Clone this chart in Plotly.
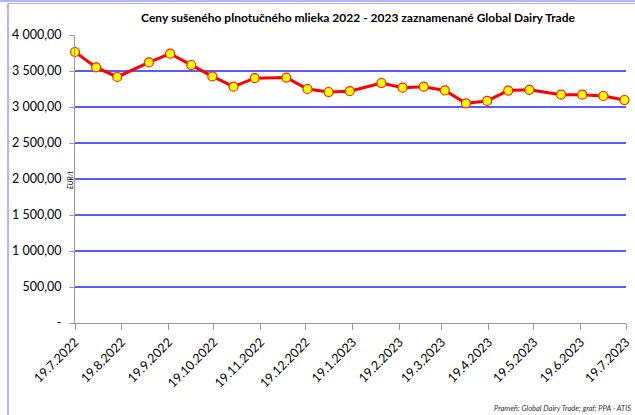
import plotly.graph_objects as go

# GDT aukcie - plnotučné sušené mlieko (EUR/t)
datumy = [
    '2022-07-19', '2022-08-02', '2022-08-16', '2022-09-06', '2022-09-20',
    '2022-10-04', '2022-10-18', '2022-11-01', '2022-11-15', '2022-12-06',
    '2022-12-20', '2023-01-03', '2023-01-17', '2023-02-07', '2023-02-21',
    '2023-03-07', '2023-03-21', '2023-04-04', '2023-04-18', '2023-05-02',
    '2023-05-16', '2023-06-06', '2023-06-20', '2023-07-04', '2023-07-18',
]
ceny = [
    3764, 3550, 3417, 3619, 3740,
    3583, 3425, 3282, 3400, 3408,
    3250, 3208, 3220, 3333, 3268,
    3282, 3230, 3051, 3085, 3228,
    3238, 3171, 3171, 3153, 3097,
]

x_tickvals = [
    '2022-07-19', '2022-08-19', '2022-09-19', '2022-10-19', '2022-11-19',
    '2022-12-19', '2023-01-19', '2023-02-19', '2023-03-19', '2023-04-19',
    '2023-05-19', '2023-06-19', '2023-07-19',
]
x_ticktext = [
    '19.7.2022', '19.8.2022', '19.9.2022', '19.10.2022', '19.11.2022',
    '19.12.2022', '19.1.2023', '19.2.2023', '19.3.2023', '19.4.2023',
    '19.5.2023', '19.6.2023', '19.7.2023',
]
y_tickvals = [0, 500, 1000, 1500, 2000, 2500, 3000, 3500, 4000]
y_ticktext = ['-', '500,00', '1 000,00', '1 500,00', '2 000,00',
              '2 500,00', '3 000,00', '3 500,00', '4 000,00']

W, H = 635, 415
L, R, T, B = 75, 9, 35, 92
FONT = 'Lato, Calibri, sans-serif'


def px_x(x):
    return (x - L) / (W - L - R)


def px_y(y):
    return (H - B - y) / (H - T - B)


fig = go.Figure()
fig.add_trace(go.Scatter(
    x=datumy, y=ceny,
    mode='lines+markers',
    line=dict(color='#ff0000', width=3),
    marker=dict(color='#ffff00', size=9,
                line=dict(color='#ff2000', width=1.2)),
    showlegend=False,
    cliponaxis=False,
))

fig.update_layout(
    width=W, height=H,
    margin=dict(l=L, r=R, t=T, b=B),
    paper_bgcolor='white', plot_bgcolor='white',
    font=dict(family=FONT, size=12, color='#000000'),
    title=dict(
        text='<b>Ceny sušeného plnotučného mlieka 2022 - 2023 '
             'zaznamenané Global Dairy Trade</b>',
        x=px_x(358), xref='paper', xanchor='center',
        y=1 - 18 / H, yanchor='middle',
        font=dict(family=FONT, size=12, color='#000000'),
    ),
    xaxis=dict(
        type='date',
        range=['2022-07-19', '2023-07-19'],
        tickvals=x_tickvals, ticktext=x_ticktext,
        tickangle=-45,
        ticks='outside', ticklen=6, tickcolor='#999999',
        showline=True, linecolor='#999999', linewidth=1,
        showgrid=False, zeroline=False,
        tickfont=dict(size=12.5),
        automargin=False,
    ),
    yaxis=dict(
        range=[0, 4000],
        tickvals=y_tickvals, ticktext=y_ticktext,
        ticks='outside', ticklen=5, tickcolor='#999999',
        showline=True, linecolor='#999999', linewidth=1,
        showgrid=True, gridcolor='rgb(90,90,255)', gridwidth=1.5,
        zeroline=False,
        tickfont=dict(size=12.5),
        ticklabelstandoff=5,
        automargin=False,
    ),
)

# rám grafu (Excel)
fig.add_shape(type='line', xref='paper', yref='paper',
              x0=px_x(0), x1=px_x(W), y0=px_y(1), y1=px_y(1),
              line=dict(color='#9a9af5', width=1.5))
fig.add_shape(type='line', xref='paper', yref='paper',
              x0=px_x(8), x1=px_x(W), y0=px_y(3.5), y1=px_y(3.5),
              line=dict(color='#b0b0f8', width=1))
fig.add_shape(type='line', xref='paper', yref='paper',
              x0=px_x(8), x1=px_x(8), y0=px_y(3.5), y1=px_y(H),
              line=dict(color='#9a9af5', width=1.5))

fig.add_annotation(
    text='<i>EUR/t</i>', textangle=-90,
    xref='paper', yref='paper', x=px_x(64), y=px_y(180),
    showarrow=False, font=dict(size=7, color='#000000'),
)
fig.add_annotation(
    text='<i>Prameň: Global Dairy Trade; graf: PPA - ATIS</i>',
    xref='paper', yref='paper', x=px_x(633), y=px_y(408),
    xanchor='right', yanchor='middle',
    showarrow=False, font=dict(size=7.5, color='#333333'),
)

# bez okraja stránky, aby graf sedel na 635x415
fig.write_html('out.html',
               config={'displayModeBar': False},
               post_script="document.body.style.margin='0';")
